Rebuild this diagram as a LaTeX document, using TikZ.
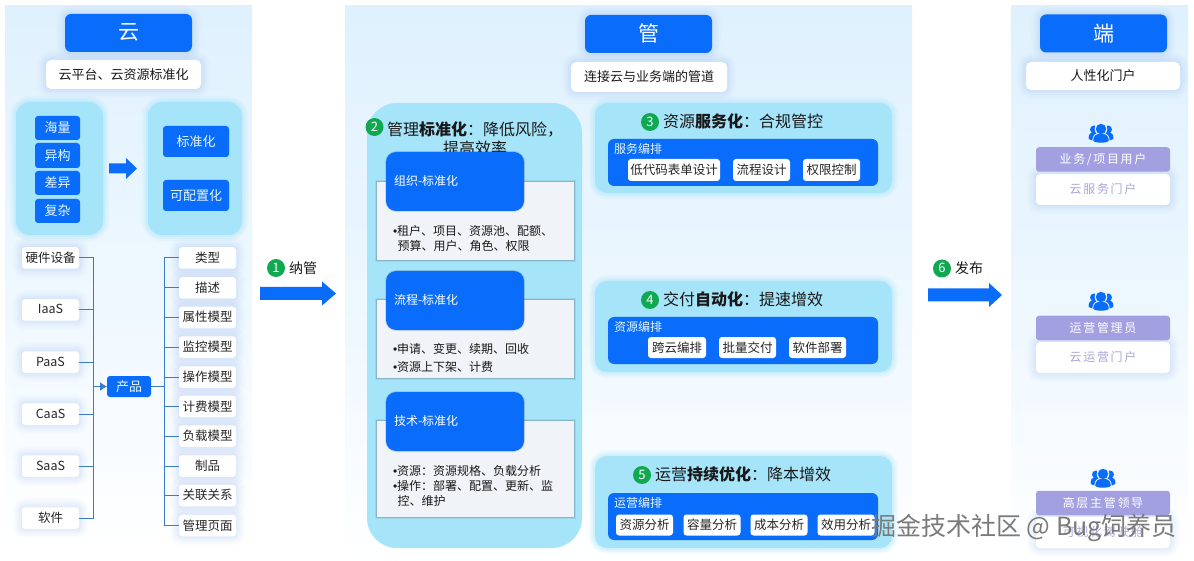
\documentclass[tikz,border=0pt]{standalone}
\usepackage{fontspec}
\setmainfont{Noto Sans CJK SC}
\newfontfamily\spaced[LetterSpace=14]{Noto Sans CJK SC}
\newfontfamily\latinb{Liberation Sans}
\newcommand{\bul}{{\latinb •}}
\newcommand{\vstrut}{\rule[-.12em]{0pt}{.88em}}
\usetikzlibrary{arrows.meta,calc}
\definecolor{brand}{HTML}{0A6CFA}
\definecolor{panel}{HTML}{DFF1FE}
\definecolor{cyanbox}{HTML}{A6E4F9}
\definecolor{sheet}{HTML}{F0F3F7}
\definecolor{linkc}{HTML}{3A7CC8}
\definecolor{badge}{HTML}{10A850}
\definecolor{violet}{HTML}{A2A0E0}
\definecolor{violettext}{HTML}{A9A7D8}
\definecolor{glow}{HTML}{4A86F5}
\tikzset{
  x=1pt,y=-1pt,
  halo/.style={
    preaction={draw=glow,draw opacity=.02,line width=18pt},
    preaction={draw=glow,draw opacity=.025,line width=14pt},
    preaction={draw=glow,draw opacity=.03,line width=10pt},
    preaction={draw=glow,draw opacity=.03,line width=6pt},
    preaction={draw=glow,draw opacity=.03,line width=3pt}},
  softcyan/.style={
    preaction={draw=cyanbox,draw opacity=.12,line width=12pt},
    preaction={draw=cyanbox,draw opacity=.18,line width=8pt},
    preaction={draw=cyanbox,draw opacity=.25,line width=4pt}},
  base/.style={inner sep=0pt,outer sep=0pt,align=center,execute at begin node=\vstrut},
  header/.style={base,fill=brand,text=white,rounded corners=6pt,minimum width=127pt,minimum height=38pt,font=\fontsize{21}{21}\selectfont,halo},
  subtitle/.style={base,fill=white,rounded corners=5pt,minimum height=29pt,font=\fontsize{13}{13}\selectfont,text=black!90,halo},
  cyanpanel/.style={fill=cyanbox,rounded corners=#1,softcyan},
  bluechip/.style={base,fill=brand,text=white!90!cyan,rounded corners=3pt,font=\fontsize{13}{13}\selectfont},
  whitechip/.style={base,fill=white,rounded corners=3pt,minimum height=21.5pt,font=\fontsize{12.5}{12.5}\selectfont,text=black!85,halo},
  smallchip/.style={base,fill=white,rounded corners=3pt,minimum height=22pt,font=\fontsize{12.5}{12.5}\selectfont,text=black!85},
  link/.style={draw=linkc,line width=1pt},
  num/.style={base,circle,fill=badge,text=white,minimum size=18pt,font=\fontsize{13}{13}\selectfont},
  steptitle/.style={inner sep=0pt,outer sep=0pt,anchor=west,font=\fontsize{16}{16}\selectfont,text=black!90,execute at begin node=\vstrut},
  sheetbox/.style={fill=sheet,preaction={draw=black,draw opacity=.06,line width=4pt},preaction={draw=black,draw opacity=.14,line width=1.5pt}},
  stagebox/.style={base,fill=brand,text=white,rounded corners=10pt,minimum width=138pt,minimum height=59pt,text width=122pt,align=left,font=\fontsize{12}{12}\selectfont,preaction={draw=black,draw opacity=.10,line width=2pt}},
  bullets/.style={inner sep=0pt,outer sep=0pt,anchor=north west,align=left,text=black!90,font=\fontsize{12}{15}\selectfont},
  orch/.style={fill=brand,rounded corners=6pt},
  orchlabel/.style={inner sep=0pt,anchor=west,text=white!90!cyan,font=\fontsize{12}{12}\selectfont,execute at begin node=\vstrut},
  roletop/.style={base,fill=violet,text=white,rounded corners=3pt,minimum width=134pt,minimum height=24.5pt,font=\spaced\fontsize{12}{12}\selectfont},
  rolebot/.style={base,fill=white,text=violettext,rounded corners=4pt,minimum width=134pt,minimum height=31pt,font=\spaced\fontsize{12}{12}\selectfont,halo},
  plainlabel/.style={inner sep=0pt,anchor=west,font=\fontsize{14}{14}\selectfont,text=black!90,execute at begin node=\vstrut},
}
\newcommand{\bigarrow}[5]{%
  \fill[brand] (#1,#4-#5) -- (#2,#4-#5) -- (#2,#4-#5-5.5) -- (#3,#4) -- (#2,#4+#5+5.5) -- (#2,#4+#5) -- (#1,#4+#5) -- cycle;}
\newcommand{\people}[2]{%
  \begin{scope}[shift={(#1,#2)},x=1pt,y=-1pt]
    \fill[brand] (-7,-2.5) circle[radius=4];
    \fill[brand] (7,-2.5) circle[radius=4];
    \fill[brand] (-12.5,6) .. controls (-12.5,1) and (-9,0) .. (-6,0) -- (6,0) .. controls (9,0) and (12.5,1) .. (12.5,6) .. controls (12.5,8) and (8,9) .. (0,9) .. controls (-8,9) and (-12.5,8) .. (-12.5,6) -- cycle;
    \fill[panel!70!white] (0,-3) circle[radius=6.3];
    \fill[panel!70!white] (-8.7,8.5) .. controls (-8.7,3) and (-5,1) .. (-2,1) -- (2,1) .. controls (5,1) and (8.7,3) .. (8.7,8.5) -- (8.7,11) -- (-8.7,11) -- cycle;
    \fill[brand] (0,-3) circle[radius=5.2];
    \fill[brand] (-7.8,8.3) .. controls (-7.8,3.5) and (-4,2) .. (-2,2) -- (2,2) .. controls (4,2) and (7.8,3.5) .. (7.8,8.3) .. controls (7.8,11.5) and (-7.8,11.5) .. (-7.8,8.3) -- cycle;
  \end{scope}}
\begin{document}
\begin{tikzpicture}
\useasboundingbox (0,0) rectangle (1194,561);
\fill[white] (0,0) rectangle (1194,561);
% panels
\shade[top color=panel,bottom color=white,middle color=panel!55!white] (5,6) rectangle (252,548);
\shade[top color=panel,bottom color=white,middle color=panel!60!white] (345,6) rectangle (912,561);
\shade[top color=panel,bottom color=white,middle color=panel!60!white] (1011,6) rectangle (1188,561);

% ---------- left
\node[header] (yun) at (128.5,33) {云};
\node[subtitle,minimum width=155pt] (yunsub) at (123.5,74.5) {云平台、云资源标准化};
\fill[cyanpanel=14pt] (16,102) rectangle (103,235);
\fill[cyanpanel=14pt] (148,102) rectangle (242,235);
\node[bluechip,minimum width=45pt,minimum height=24pt] (a1) at (57.5,128) {海量};
\node[bluechip,minimum width=45pt,minimum height=25pt] (a2) at (57.5,155.5) {异构};
\node[bluechip,minimum width=45pt,minimum height=24pt] (a3) at (57.5,183) {差异};
\node[bluechip,minimum width=45pt,minimum height=24pt] (a4) at (57.5,211) {复杂};
\bigarrow{109}{126}{137}{168.5}{5}
\node[bluechip,minimum width=66pt,minimum height=31pt] (b1) at (196,141.5) {标准化};
\node[bluechip,minimum width=66pt,minimum height=31pt] (b2) at (196,195.5) {可配置化};

\foreach \n/\y/\t in {l1/258/硬件设备,l2/310/IaaS,l3/362/PaaS,l4/414/CaaS,l5/466/SaaS,l6/518/软件}
  \node[whitechip,minimum width=57pt] (\n) at (50.5,\y) {\t};
\node[bluechip,minimum width=44pt,minimum height=21pt] (prod) at (129,386.5) {产品};
\foreach \n/\y/\t in {r1/258/类型,r2/288/描述,r3/317.5/属性模型,r4/347/监控模型,r5/377/操作模型,r6/406.5/计费模型,r7/436/负载模型,r8/466/制品,r9/495.5/关联关系,r10/525.5/管理页面}
  \node[whitechip,minimum width=57pt] (\n) at (207.5,\y) {\t};
\coordinate (tl) at (93,386.5);
\coordinate (tr) at (164,386.5);
\foreach \n in {l1,l2,l3,l4,l5,l6} \draw[link] (\n.east) -| (tl);
\draw[link,-{Latex[length=7pt,width=9pt]}] (tl) -- (prod.west);
\draw[link] (prod.east) -- (tr);
\foreach \n in {r1,r2,r3,r4,r5,r6,r7,r8,r9,r10} \draw[link] (tr) |- (\n.west);

% arrow 1
\bigarrow{260}{322}{336}{293.5}{6.5}
\node[num] (n1) at (276,268) {1};
\node[plainlabel] (nl1) at (289,268) {纳管};

% ---------- middle
\node[header] (guan) at (648.5,34) {管};
\node[subtitle,minimum width=156pt,minimum height=30pt] (guansub) at (649,77) {连接云与业务端的管道};
\fill[cyanbox,rounded corners=30pt] (367,103) rectangle (582,548);

\node[inner sep=0pt,align=center,font=\fontsize{16}{18.5}\selectfont,text=black!90] (t2) at (475,139) {管理\textbf{标准化}：降低风险，\\提高效率};
\node[num] (n2) at (374.5,127) {2};

\fill[sheetbox] (377,182) rectangle (574,260);
\node[stagebox] (s1) at (455,181.5) {组织-标准化};
\node[bullets] (s1t) at (393,225) {\bul 租户、项目、资源池、配额、\\\hspace*{4.5pt}预算、用户、角色、权限};

\fill[sheetbox] (377,300) rectangle (574,378);
\node[stagebox] (s2) at (455,300.5) {流程-标准化};
\node[bullets,font=\fontsize{12}{18}\selectfont] (s2t) at (393,343.5) {\bul 申请、变更、续期、回收\\\bul 资源上下架、计费};

\fill[sheetbox] (377,421) rectangle (574,517);
\node[stagebox] (s3) at (455,421.5) {技术-标准化};
\node[bullets] (s3t) at (393,465.5) {\bul 资源：资源规格、负载分析\\\bul 操作：部署、配置、更新、监\\\hspace*{4.5pt}控、维护};

% box 3
\fill[cyanpanel=12pt] (595,103) rectangle (892,193);
\node[num] (n3) at (650,122) {3};
\node[steptitle] (t3) at (663,122) {资源\textbf{服务化}：合规管控};
\fill[orch] (608,139) rectangle (878,186);
\node[orchlabel] (o3) at (614,149) {服务编排};
\node[smallchip,minimum width=92pt] (c31) at (674,170) {低代码表单设计};
\node[smallchip,minimum width=57pt] (c32) at (761.5,170) {流程设计};
\node[smallchip,minimum width=57pt] (c33) at (831.5,170) {权限控制};

% box 4
\fill[cyanpanel=12pt] (595,281) rectangle (892,372);
\node[num] (n4) at (650,300) {4};
\node[steptitle] (t4) at (663,300) {交付\textbf{自动化}：提速增效};
\fill[orch] (608,317) rectangle (878,364);
\node[orchlabel] (o4) at (614,327) {资源编排};
\node[smallchip,minimum width=58pt,minimum height=21pt] (c41) at (677,347.5) {跨云编排};
\node[smallchip,minimum width=57pt,minimum height=21pt] (c42) at (747.5,347.5) {批量交付};
\node[smallchip,minimum width=57pt,minimum height=21pt] (c43) at (817.5,347.5) {软件部署};

% box 5
\fill[cyanpanel=12pt] (595,456) rectangle (892,548);
\node[num] (n5) at (642,475) {5};
\node[steptitle] (t5) at (655,475) {运营\textbf{持续优化}：降本增效};
\fill[orch] (608,493) rectangle (878,540);
\node[orchlabel] (o5) at (614,503) {运营编排};
\node[smallchip,minimum width=57pt,minimum height=21pt] (c51) at (644.5,525) {资源分析};
\node[smallchip,minimum width=57pt,minimum height=21pt] (c52) at (712,525) {容量分析};
\node[smallchip,minimum width=57pt,minimum height=21pt] (c53) at (779,525) {成本分析};
\node[smallchip,minimum width=57pt,minimum height=21pt] (c54) at (846,525) {效用分析};

% arrow 6
\bigarrow{928}{989}{1002}{295}{6.5}
\node[num] (n6) at (942,268.5) {6};
\node[plainlabel] (nl6) at (955,268.5) {发布};

% ---------- right
\node[header] (duan) at (1103.5,33.5) {端};
\node[subtitle,minimum width=154pt,minimum height=28pt] (duansub) at (1103,76) {人性化门户};

\people{1101}{132}
\node[rolebot] (p1b) at (1103,189.5) {云服务门户};
\node[roletop] (p1) at (1103,159.5) {业务/项目用户};
\people{1101}{300}
\node[rolebot] (p2b) at (1103,357.5) {云运营门户};
\node[roletop] (p2) at (1103,328) {运营管理员};
\people{1103}{477}
\node[rolebot] (p3b) at (1103,532.5) {可视化驾驶舱};
\node[roletop] (p3) at (1103,503) {高层主管领导};

% watermark
\node[inner sep=0pt,text=black!52,font=\fontsize{25}{25}\selectfont] (wm) at (1024,528) {掘金技术社区 @ Bug饲养员};
\end{tikzpicture}
\end{document}
